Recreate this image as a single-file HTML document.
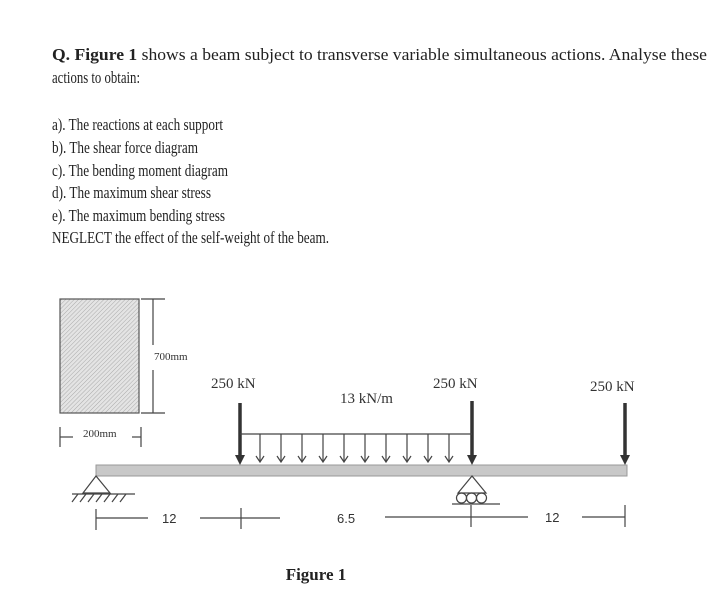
<!DOCTYPE html>
<html><head><meta charset="utf-8"><style>
html,body{margin:0;padding:0;background:#fff;}
svg{display:block;}
</style></head><body>
<svg width="722" height="600" viewBox="0 0 722 600" xmlns="http://www.w3.org/2000/svg">
<defs>
<pattern id="h" width="3" height="3" patternUnits="userSpaceOnUse" patternTransform="rotate(45)">
<rect width="3" height="3" fill="#e4e4e4"/><line x1="0" y1="0" x2="0" y2="3" stroke="#aaa" stroke-width="1"/>
</pattern>
</defs>
<g font-family="Liberation Serif, serif" font-size="17" fill="#222">
<text x="52" y="60" textLength="655" lengthAdjust="spacingAndGlyphs"><tspan font-weight="bold">Q.  Figure 1</tspan> shows a beam subject to transverse variable simultaneous actions.  Analyse these</text>
<text x="52" y="83" textLength="88" lengthAdjust="spacingAndGlyphs">actions to obtain:</text>
<text x="52" y="130" textLength="171" lengthAdjust="spacingAndGlyphs">a). The reactions at each support</text>
<text x="52" y="153" textLength="146" lengthAdjust="spacingAndGlyphs">b). The shear force diagram</text>
<text x="52" y="176" textLength="176" lengthAdjust="spacingAndGlyphs">c). The bending moment diagram</text>
<text x="52" y="198" textLength="159" lengthAdjust="spacingAndGlyphs">d). The maximum shear stress</text>
<text x="52" y="221" textLength="173" lengthAdjust="spacingAndGlyphs">e). The maximum bending stress</text>
<text x="52" y="243" textLength="277" lengthAdjust="spacingAndGlyphs">NEGLECT the effect of the self-weight of the beam.</text>
<text x="316" y="580" font-weight="bold" text-anchor="middle">Figure 1</text>
</g>
<!-- cross-section -->
<rect x="60" y="299" width="79" height="114" fill="url(#h)" stroke="#555" stroke-width="1.2"/>
<g stroke="#444" stroke-width="1.2" fill="none">
<line x1="141" y1="299" x2="165" y2="299"/><line x1="141" y1="413" x2="165" y2="413"/>
<line x1="153" y1="299" x2="153" y2="345"/><line x1="153" y1="370" x2="153" y2="413"/>
<line x1="60" y1="427" x2="60" y2="447"/><line x1="60" y1="437" x2="73" y2="437"/>
<line x1="141" y1="427" x2="141" y2="447"/><line x1="132" y1="437" x2="141" y2="437"/>
</g>
<g font-family="Liberation Serif, serif" font-size="11" fill="#333">
<text x="154" y="360">700mm</text>
<text x="83" y="437">200mm</text>
</g>
<!-- beam -->
<rect x="96" y="465" width="531" height="11" fill="#c8c8c8" stroke="#999" stroke-width="1"/>
<!-- loads -->
<g stroke="#333" fill="#333">
<line x1="240" y1="403" x2="240" y2="456" stroke-width="3.5"/>
<polygon points="235,455 245,455 240,465" stroke="none"/>
<line x1="472" y1="401" x2="472" y2="456" stroke-width="3.5"/>
<polygon points="467,455 477,455 472,465" stroke="none"/>
<line x1="625" y1="403" x2="625" y2="456" stroke-width="3.5"/>
<polygon points="620,455 630,455 625,465" stroke="none"/>
</g>
<g stroke="#444" stroke-width="1.2" fill="none">
<line x1="240" y1="434" x2="472" y2="434"/>
<path d="M260 434V462M256 456L260 462L264 456M281 434V462M277 456L281 462L285 456M302 434V462M298 456L302 462L306 456M323 434V462M319 456L323 462L327 456M344 434V462M340 456L344 462L348 456M365 434V462M361 456L365 462L369 456M386 434V462M382 456L386 462L390 456M407 434V462M403 456L407 462L411 456M428 434V462M424 456L428 462L432 456M449 434V462M445 456L449 462L453 456"/>
<!-- pin -->
<polygon points="96,476 83,493 110,493"/>
<line x1="72" y1="494" x2="135" y2="494"/>
<path d="M78 494L72 502M86 494L80 502M94 494L88 502M102 494L96 502M110 494L104 502M118 494L112 502M126 494L120 502"/>
<!-- roller -->
<polygon points="472,476 458,493 486,493"/>
<circle cx="461.5" cy="498" r="5"/><circle cx="471.5" cy="498" r="5"/><circle cx="481.5" cy="498" r="5"/>
<line x1="452" y1="504" x2="500" y2="504"/>
<!-- dims -->
<line x1="96" y1="509" x2="96" y2="530"/><line x1="96" y1="518" x2="148" y2="518"/>
<line x1="200" y1="518" x2="280" y2="518"/><line x1="241" y1="508" x2="241" y2="529"/>
<line x1="385" y1="517" x2="528" y2="517"/><line x1="471" y1="505" x2="471" y2="527"/>
<line x1="582" y1="517" x2="625" y2="517"/><line x1="625" y1="505" x2="625" y2="527"/>
</g>
<g font-family="Liberation Sans, sans-serif" font-size="13" fill="#333">
<text x="162" y="523">12</text>
<text x="337" y="523">6.5</text>
<text x="545" y="522">12</text>
</g>
<g font-family="Liberation Serif, serif" font-size="15" fill="#333">
<text x="211" y="388">250 kN</text>
<text x="340" y="403">13 kN/m</text>
<text x="433" y="388">250 kN</text>
<text x="590" y="391">250 kN</text>
</g>
</svg>
</body></html>
